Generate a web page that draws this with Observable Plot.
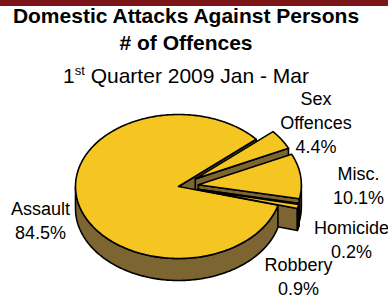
<!DOCTYPE html>
<html><head><meta charset="utf-8">
<script src="https://cdn.jsdelivr.net/npm/d3@7"></script>
<script src="https://cdn.jsdelivr.net/npm/@observablehq/plot@0.6"></script>
<style>
html,body{margin:0;padding:0;background:#fff;}
#wrap{position:relative;width:388px;height:298px;overflow:hidden;font-family:"Liberation Sans",Arial,sans-serif;}
#bar{height:6px;background:#7a1416;}
.t{position:absolute;left:0;width:372px;text-align:center;font-size:21px;line-height:21px;color:#000;white-space:nowrap;}
.sup{font-size:13px;position:relative;top:-8px;}
</style></head><body>
<div id="wrap">
<div id="bar"></div>
<div id="chart"></div>
<div class="t" style="top:5px;font-weight:bold">Domestic Attacks Against Persons</div>
<div class="t" style="top:32px;font-weight:bold"># of Offences</div>
<div class="t" style="top:65px">1<span class="sup">st</span> Quarter 2009 Jan - Mar</div>
</div>
<script>
// ---- data ----
const categories = ["Assault", "Sex Offences", "Misc.", "Homicide", "Robbery"];
const labelNames = ["Assault", "Sex\nOffences", "Misc.", "Homicide", "Robbery"];
const values = [84.5, 4.4, 10.1, 0.2, 0.9];
const exploded = [false, true, true, true, true];

// ---- layout ----
const W = 388, H = 292, TOP = 6;
const cx = 178, cy = 186, rx = 103, ry = 72, depth = 22, explodeR = 20;
const deg = Math.PI / 180;
const startAngle = 15.1 * deg;
const topColor = "#f5c622", sideColor = "#7d6531";
const labelNudge = [[17.6, 7.5], [-13, 3.8], [1.7, 13.4], [-3.1, 26.5], [-54.7, 60]];

const total = d3.sum(values);
let acc = startAngle;
const slices = values.map((v, i) => {
  const a0 = acc, a1 = acc + v / total * 2 * Math.PI;
  acc = a1;
  const m = (a0 + a1) / 2;
  const e = exploded[i] ? explodeR : 0;
  return {i, a0, a1, m, ox: e * Math.cos(m), oy: e * Math.sin(m) * ry / rx};
});
const P = (s, t, z = 0) => [cx + s.ox + rx * Math.cos(t), cy + s.oy + ry * Math.sin(t) + z];
const C = (s, z = 0) => [cx + s.ox, cy + s.oy + z];

function arc(s, t0, t1, z) {
  const n = Math.max(2, Math.ceil((t1 - t0) / deg));
  return d3.range(n + 1).map(k => P(s, t0 + (t1 - t0) * k / n, z));
}

// radial cut faces
let faces = [];
slices.forEach(s => {
  const addFace = t => {
    const pts = [C(s), P(s, t), P(s, t, depth), C(s, depth), C(s)];
    faces.push({key: (C(s)[1] + P(s, t)[1]) / 2, pts});
  };
  if (Math.cos(s.a0) < 0) addFace(s.a0);
  if (Math.cos(s.a1) > 0) addFace(s.a1);
});
faces.sort((a, b) => a.key - b.key);
const faceRows = [];
faces.forEach((f, j) => f.pts.forEach(([x, y]) => faceRows.push({id: "f" + j, x, y})));

// outer walls (front half only)
const wallRows = [];
slices.forEach(s => {
  for (let k = -1; k <= 2; k++) {
    const lo = Math.max(s.a0, 2 * Math.PI * k), hi = Math.min(s.a1, 2 * Math.PI * k + Math.PI);
    if (hi > lo) {
      const topArc = arc(s, lo, hi, 0), botArc = arc(s, lo, hi, depth).reverse();
      const pts = [...topArc, ...botArc, topArc[0]];
      pts.forEach(([x, y]) => wallRows.push({id: "w" + s.i + "_" + k, x, y}));
    }
  }
});

// top faces
const topRows = [];
slices.forEach(s => {
  const pts = [C(s), ...arc(s, s.a0, s.a1, 0), C(s)];
  pts.forEach(([x, y]) => topRows.push({id: "t" + s.i, x, y}));
});

// labels
const labels = slices.map(s => {
  const [x, y] = [cx + s.ox + rx * 1.55 * Math.cos(s.m), cy + s.oy + ry * 1.55 * Math.sin(s.m)];
  return {x: x + labelNudge[s.i][0], y: y + labelNudge[s.i][1], text: labelNames[s.i] + "\n" + values[s.i] + "%"};
});

const common = {x: "x", y: "y", z: "id", stroke: "black", strokeWidth: 1.6, strokeLinejoin: "round", curve: "linear"};
const chart = Plot.plot({
  width: W, height: H, margin: 0,
  x: {domain: [0, W], range: [0, W], axis: null},
  y: {domain: [TOP, TOP + H], range: [0, H], axis: null},
  style: {background: "white", overflow: "visible"},
  marks: [
    Plot.line(faceRows, {...common, fill: sideColor}),
    Plot.line(wallRows, {...common, fill: sideColor}),
    Plot.line(topRows, {...common, fill: topColor}),
    Plot.text(labels, {x: "x", y: "y", text: "text", fontSize: 18, lineHeight: 1.333,
      fontFamily: "Liberation Sans, Arial, sans-serif", fill: "black"})
  ]
});
document.getElementById("chart").appendChild(chart);
</script>
</body></html>
